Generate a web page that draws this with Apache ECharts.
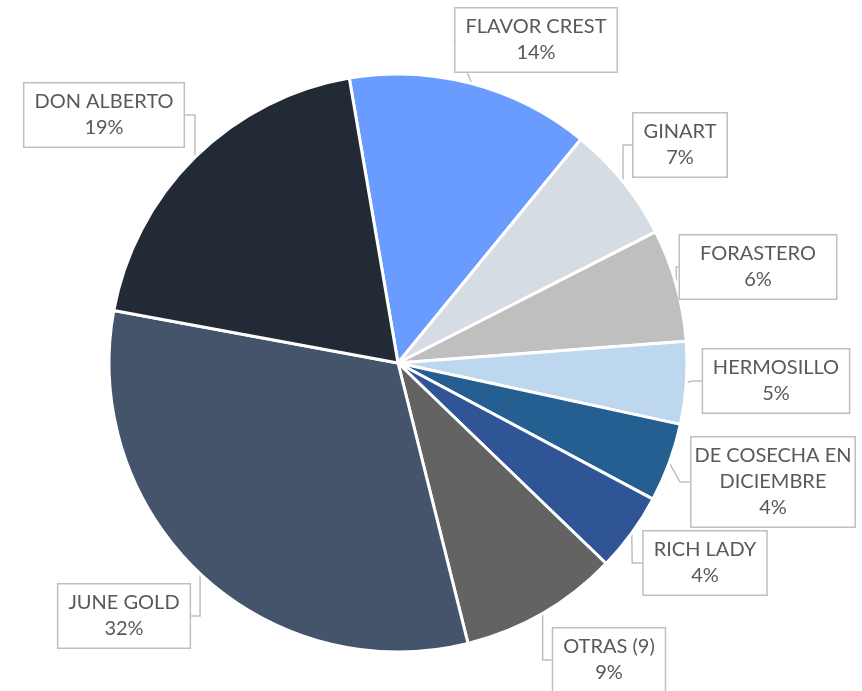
<!DOCTYPE html>
<html>
<head>
<meta charset="utf-8">
<script src="https://cdn.jsdelivr.net/npm/echarts@6/dist/echarts.min.js"></script>
<style>
  html, body { margin: 0; padding: 0; background: #fff; }
  #main { width: 862px; height: 691px; }
</style>
</head>
<body>
<div id="main"></div>
<script>
// datos (porcentaje de cada variedad)
var variedades = ["FLAVOR CREST", "GINART", "FORASTERO", "HERMOSILLO", "DE COSECHA EN\nDICIEMBRE", "RICH LADY", "OTRAS (9)", "JUNE GOLD", "DON ALBERTO"];
var valores = [13.6, 6.6, 6.3, 4.6, 4.4, 4.4, 8.9, 31.8, 19.4];
var colores = ["#6a9bff", "#d6dce4", "#bfbfbf", "#bdd7ee", "#255e91", "#2f5597", "#636363", "#44546a", "#222a35"];

// centro de cada etiqueta (callout)
var posEtiquetas = [
  [536, 40], [680, 145], [758, 267], [776, 381], [773, 482],
  [705, 563], [609, 660], [124, 616], [104, 115]
];

var myChart = echarts.init(document.getElementById("main"));
var option = {
  animation: false,
  series: [
    {
      type: "pie",
      center: [398, 363],
      radius: [0, 289],
      startAngle: 99.7,
      clockwise: true,
      itemStyle: { borderColor: "#fff", borderWidth: 3 },
      label: {
        show: true,
        formatter: function (p) {
          return p.name + "\n" + Math.round(p.percent) + "%";
        },
        overflow: "none",
        fontFamily: "Lato, 'Open Sans', sans-serif",
        fontSize: 20,
        lineHeight: 26,
        color: "#595959",
        align: "center",
        backgroundColor: "#fff",
        borderColor: "#bfbfbf",
        borderWidth: 1.5,
        padding: [6, 10, 5, 10]
      },
      labelLine: {
        show: true,
        length: 10,
        length2: 10,
        lineStyle: { color: "#bfbfbf", width: 1.5 }
      },
      labelLayout: function (params) {
        var pos = posEtiquetas[params.dataIndex];
        return { x: pos[0], y: pos[1], align: "center", verticalAlign: "middle" };
      },
      data: variedades.map(function (n, i) {
        return { name: n, value: valores[i], itemStyle: { color: colores[i] } };
      })
    }
  ]
};
myChart.setOption(option);
</script>
</body>
</html>
